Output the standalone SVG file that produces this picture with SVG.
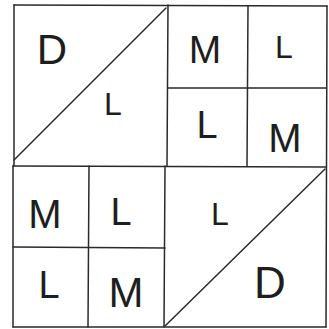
<svg xmlns="http://www.w3.org/2000/svg" width="329" height="329" viewBox="0 0 329 329">
<style>
.l{stroke:#2a2a2a;stroke-width:1.5;fill:none;stroke-linecap:round}
.t{font-family:"Liberation Sans",Arial,sans-serif;fill:#1e1e1e;text-anchor:middle}
</style>
<rect width="329" height="329" fill="#ffffff"/>
<g id="connectors">
<line class="l" x1="14" y1="5" x2="327" y2="6"/>
<line class="l" x1="14" y1="5" x2="14" y2="166"/>
<line class="l" x1="13" y1="166" x2="13" y2="327"/>
<line class="l" x1="327" y1="6" x2="326" y2="327"/>
<line class="l" x1="13" y1="327" x2="326" y2="327"/>
<line class="l" x1="13" y1="166" x2="326" y2="167"/>
<line class="l" x1="168" y1="5" x2="167" y2="166"/>
<line class="l" x1="165" y1="166" x2="164" y2="327"/>
</g>
<g id="block-top-left">
<line class="l" x1="14" y1="160" x2="166" y2="8"/>
<text class="t" x="52" y="64" font-size="42">D</text>
<text class="t" x="113" y="115" font-size="32">L</text>
</g>
<g id="block-top-right">
<line class="l" x1="248" y1="6" x2="247" y2="166"/>
<line class="l" x1="168" y1="88" x2="326" y2="88"/>
<text class="t" x="205" y="63" font-size="39">M</text>
<text class="t" x="284" y="58" font-size="32">L</text>
<text class="t" x="207" y="138" font-size="38">L</text>
<text class="t" x="285" y="152" font-size="40">M</text>
</g>
<g id="block-bottom-left">
<line class="l" x1="89" y1="166" x2="88" y2="327"/>
<line class="l" x1="13" y1="247" x2="165" y2="248"/>
<text class="t" x="45" y="228" font-size="40">M</text>
<text class="t" x="121" y="225" font-size="38">L</text>
<text class="t" x="49" y="298" font-size="38">L</text>
<text class="t" x="126" y="307" font-size="42">M</text>
</g>
<g id="block-bottom-right">
<line class="l" x1="165" y1="326" x2="325" y2="169"/>
<text class="t" x="220" y="225" font-size="32">L</text>
<text class="t" x="270" y="298" font-size="44">D</text>
</g>
</svg>
